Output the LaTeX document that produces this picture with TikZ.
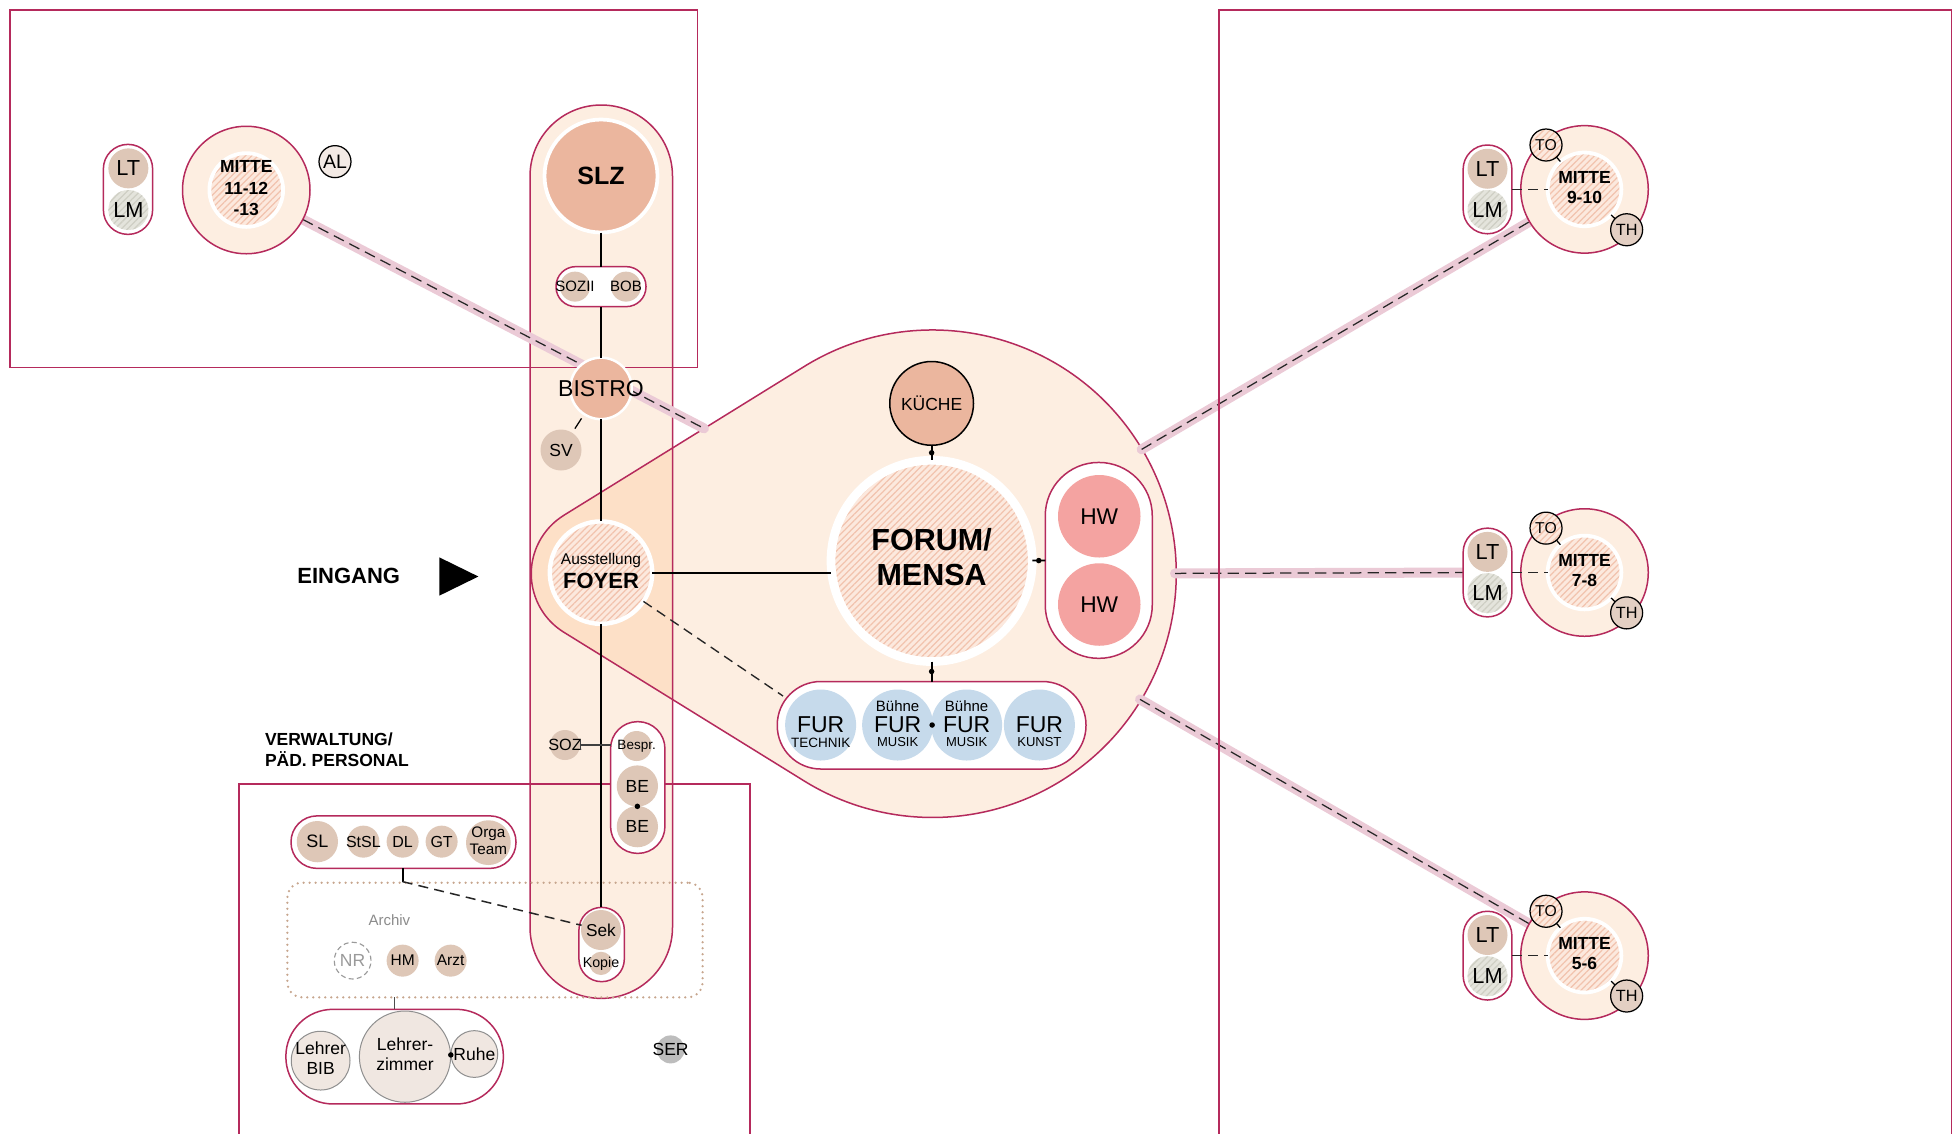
\documentclass[tikz,border=0pt]{standalone}
\usepackage{fontspec}
\setmainfont{Liberation Sans}
\usetikzlibrary{patterns.meta,arrows.meta}
\pgfdeclarelayer{bg}
\pgfdeclarelayer{mid}
\pgfsetlayers{bg,mid,main}
\definecolor{crim}{HTML}{B52A5C}
\definecolor{peach}{HTML}{FDEEE1}
\definecolor{peachdk}{HTML}{FDE0C7}
\definecolor{salmon}{HTML}{EBB69E}
\definecolor{taupe}{HTML}{DEC7B7}
\definecolor{hpbase}{HTML}{FCE9DE}
\definecolor{hpline}{HTML}{F2C3AE}
\definecolor{lmbase}{HTML}{E4E4DC}
\definecolor{lmline}{HTML}{CFCFC4}
\definecolor{hwc}{HTML}{F4A3A1}
\definecolor{furc}{HTML}{C6DAEB}
\definecolor{lzc}{HTML}{F0E7E1}
\definecolor{lzd}{HTML}{8F8F8F}
\definecolor{serc}{HTML}{BDBDBD}
\definecolor{bandc}{HTML}{EBCAD6}
\definecolor{archc}{HTML}{C7A68E}
\definecolor{archt}{HTML}{8C8C8C}
\definecolor{nrc}{HTML}{9A9A9A}
\definecolor{alc}{HTML}{F3EAE5}
\definecolor{thc}{HTML}{E3CFC3}
\newcommand\fsz[2]{\fontsize{#1pt}{#2pt}\selectfont}
\newcommand\zt[1]{\makebox[0pt]{#1}}
\newcommand\zb[1]{\makebox[0pt]{\begin{tabular}{@{}c@{}}#1\end{tabular}}}
\begin{document}
\begin{tikzpicture}[x=0.5pt,y=0.5pt,
  crimline/.style={draw=crim,line width=0.6pt},
  circ/.style={circle,inner sep=0pt,outer sep=0pt},
  tc/.style={circ,fill=taupe},
  hp/.style={preaction={fill=hpbase},pattern={Lines[angle=45,distance=1.8pt,line width=0.5pt]},pattern color=hpline},
  hg/.style={preaction={fill=lmbase},pattern={Lines[angle=45,distance=1.8pt,line width=0.5pt]},pattern color=lmline},
  capsule/.style={rectangle,draw=crim,line width=0.6pt,fill=white,inner sep=0pt,outer sep=0pt},
  band/.style={draw=bandc,line width=4pt,line cap=round},
  bandd/.style={draw=black!85,line width=0.5pt,dash pattern=on 4.5pt off 2.5pt},
  spinel/.style={draw=black,line width=0.9pt},
  thinl/.style={draw=black,line width=0.6pt},
  ldash/.style={draw=black!85,line width=0.55pt,dash pattern=on 4pt off 2.5pt},
  dotn/.style={circle,fill=black,inner sep=0pt,minimum size=2.2pt},
  lab/.style={inner sep=0pt,outer sep=0pt},
]
\useasboundingbox (0,0) rectangle (1567.2,-906.4);

% ---------------- background fills
\begin{pgfonlayer}{bg}
\fill[white] (0,0) rectangle (1567.2,-906.4);
\fill[peach] (451.05,-412.23) -- (643.37,-293.19) arc[start angle=121.76,end angle=-121.76,radius=195] -- (451.05,-505.77) arc[start angle=238.24,end angle=121.76,radius=55] -- cycle;
\fill[peach,rounded corners=28.49pt] (424,-84) rectangle (538,-798.7);
\begin{scope}
\clip (451.05,-412.23) -- (643.37,-293.19) arc[start angle=121.76,end angle=-121.76,radius=195] -- (451.05,-505.77) arc[start angle=238.24,end angle=121.76,radius=55] -- cycle;
\fill[peachdk,rounded corners=28.49pt] (424,-84) rectangle (538,-798.7);
\end{scope}
\end{pgfonlayer}

% ---------------- left group
\node[capsule,minimum width=19.7pt,minimum height=36pt,rounded corners=9.8pt] (capL) at (102.4,-151.5) {};
\node[tc,minimum size=16pt,font=\fsz{8.7}{9}] (LTL) at (102.7,-134.7) {\zt{LT}};
\node[circ,hg,minimum size=16pt,font=\fsz{8.7}{9}] (LML) at (102.7,-168) {\zt{LM}};
\node[circ,fill=peach,draw=crim,line width=0.6pt,minimum size=51pt] (MOL) at (197,-152) {};
\node[circ,hp,draw=white,line width=1.5pt,minimum size=29.5pt,font=\bfseries\fsz{7}{8.6}] (MIL) at (197,-152) {\zb{MITTE\\11-12\\-13}};
\node[circ,fill=alc,draw=black,line width=0.5pt,minimum size=12.8pt,font=\fsz{7.8}{8}] (AL) at (268,-129.3) {\zt{AL}};

% ---------------- right groups
\foreach \cy/\lab/\nm in {151.5/9-10/A,458/7-8/B,764.5/5-6/C}{
 \node[capsule,minimum width=19.5pt,minimum height=35.5pt,rounded corners=9.7pt] (cap\nm) at (1190,-\cy) {};
 \node[tc,minimum size=16pt,font=\fsz{8.7}{9}] (LT\nm) at (1190,-\cy+16.5) {\zt{LT}};
 \node[circ,hg,minimum size=16pt,font=\fsz{8.7}{9}] (LM\nm) at (1190,-\cy-16.5) {\zt{LM}};
 \node[circ,fill=peach,draw=crim,line width=0.6pt,minimum size=51pt] (MO\nm) at (1267.6,-\cy) {};
 \node[circ,hp,draw=white,line width=1.5pt,minimum size=29.5pt,font=\bfseries\fsz{7}{8}] (MI\nm) at (1267.6,-\cy) {\zb{MITTE\\\lab}};
 \node[circ,hp,draw=black,line width=0.5pt,minimum size=12.8pt,font=\fsz{6.3}{7}] (TO\nm) at (1236.8,-\cy+35.5) {\zt{TO}};
 \node[circ,fill=thc,draw=black,line width=0.5pt,minimum size=12.8pt,font=\fsz{6.5}{7}] (TH\nm) at (1301.3,-\cy-32.3) {\zt{TH}};
 \draw[thinl,line width=0.5pt] (TO\nm) -- (MI\nm);
 \draw[thinl,line width=0.5pt] (TH\nm) -- (MI\nm);
 \draw[ldash,line width=0.6pt] (cap\nm.east) -- (MI\nm);
}

% ---------------- spine
\node[circ,fill=salmon,draw=white,line width=1.5pt,minimum size=45.2pt,font=\bfseries\fsz{10}{12}] (SLZ) at (480.8,-140.8) {\zt{SLZ}};
\node[capsule,minimum width=36pt,minimum height=16pt,rounded corners=7.9pt] (sozcap) at (480.8,-229.3) {};
\node[tc,minimum size=12pt,font=\fsz{6}{7}] (SOZII) at (460,-229.3) {\zt{SOZII}};
\node[tc,minimum size=12pt,font=\fsz{6}{7}] (BOB) at (500.8,-229.3) {\zt{BOB}};
\node[circ,fill=salmon,draw=white,line width=1pt,minimum size=24.6pt,font=\fsz{9.2}{11}] (BISTRO) at (480.8,-310.7) {\zt{BISTRO}};
\node[tc,minimum size=16.4pt,font=\fsz{7}{8}] (SV) at (448.8,-360) {\zt{SV}};
\node[circ,hp,draw=white,line width=1.75pt,minimum size=41pt] (FOYER) at (480.8,-458.1) {};
\node[lab,font=\fsz{6.2}{7}] (foyA) at (480.8,-448.3) {Ausstellung};
\node[lab,font=\bfseries\fsz{8.8}{10}] (foyB) at (480.8,-465) {FOYER};
\node[tc,minimum size=12pt,font=\fsz{6.5}{7}] (SOZ) at (452,-596) {\zt{SOZ}};
\node[capsule,minimum width=21.75pt,minimum height=52.7pt,rounded corners=10.8pt] (becap) at (510.2,-630) {};
\node[tc,minimum size=12pt,font=\fsz{5.4}{6}] (BESPR) at (509.3,-596.8) {\zt{Bespr.}};
\node[tc,minimum size=16.5pt,font=\fsz{7}{8}] (BE1) at (509.9,-628.8) {\zt{BE}};
\node[tc,minimum size=16.5pt,font=\fsz{7}{8}] (BE2) at (509.9,-661.3) {\zt{BE}};
\node[capsule,minimum width=18.15pt,minimum height=29.7pt,rounded corners=9pt] (sekcap) at (481.3,-755.6) {};
\node[tc,minimum size=16pt,font=\fsz{6.9}{8}] (SEK) at (480.8,-744) {\zt{Sek}};
\node[tc,minimum size=9.3pt,font=\fsz{5.7}{6}] (KOPIE) at (480.8,-770.7) {\zt{Kopie}};

% ---------------- centre
\node[circ,fill=salmon,draw=black,line width=0.6pt,minimum size=33.5pt,font=\fsz{7}{8}] (KUECHE) at (745.3,-322.7) {\zt{KÜCHE}};
\node[circ,hp,draw=white,line width=3.5pt,minimum size=80.5pt,font=\bfseries\fsz{12.2}{14.3}] (FORUM) at (745.3,-448.7) {\zb{FORUM/\\MENSA}};
\node[capsule,minimum width=42.8pt,minimum height=78.35pt,rounded corners=21.3pt] (hwcap) at (879,-448.3) {};
\node[circ,fill=hwc,minimum size=33pt,font=\fsz{9.1}{10}] (HW1) at (879.4,-413) {\zt{HW}};
\node[circ,fill=hwc,minimum size=33pt,font=\fsz{9.1}{10}] (HW2) at (879.4,-483.6) {\zt{HW}};
\node[capsule,minimum width=123.5pt,minimum height=35pt,rounded corners=17.4pt] (furcap) at (745.3,-580.2) {};
\node[circ,fill=furc,minimum size=28.4pt] (FUR1) at (656.5,-580) {};
\node[circ,fill=furc,minimum size=28.4pt] (FUR2) at (718.1,-580) {};
\node[circ,fill=furc,minimum size=28.4pt] (FUR3) at (773.3,-580) {};
\node[circ,fill=furc,minimum size=28.4pt] (FUR4) at (831.5,-580) {};
\node[lab,font=\fsz{9.2}{10}] (FUR1a) at (656.5,-580) {FUR};
\node[lab,font=\fsz{5.4}{6}] (FUR1b) at (656.5,-594) {TECHNIK};
\node[lab,font=\fsz{9.2}{10}] (FUR2a) at (718.1,-580) {FUR};
\node[lab,font=\fsz{5.2}{6}] (FUR2b) at (718.1,-594) {MUSIK};
\node[lab,font=\fsz{6}{7}] (FUR2c) at (718.1,-564.5) {Bühne};
\node[lab,font=\fsz{9.2}{10}] (FUR3a) at (773.3,-580) {FUR};
\node[lab,font=\fsz{5.2}{6}] (FUR3b) at (773.3,-594) {MUSIK};
\node[lab,font=\fsz{6}{7}] (FUR3c) at (773.3,-564.5) {Bühne};
\node[lab,font=\fsz{9.2}{10}] (FUR4a) at (831.5,-580) {FUR};
\node[lab,font=\fsz{5.2}{6}] (FUR4b) at (831.5,-594) {KUNST};
\coordinate (furend) at (626.4,-556.8);

% ---------------- entrance
\node[lab,font=\bfseries\fsz{8.8}{10}] (EING) at (279,-460.5) {EINGANG};
\fill[black] (351.5,-445.9) -- (382.7,-461.2) -- (351.5,-476.5) -- cycle;

% ---------------- administration
\node[lab,anchor=west,align=left,font=\bfseries\fsz{7}{8.3}] (VERW) at (212,-600) {VERWALTUNG/\\PÄD. PERSONAL};
\node[capsule,minimum width=90pt,minimum height=21pt,rounded corners=10.4pt] (slcap) at (322.8,-673.7) {};
\node[tc,minimum size=16.5pt,font=\fsz{7.2}{8}] (SL) at (253.9,-673.3) {\zt{SL}};
\node[tc,minimum size=12.8pt,font=\fsz{6.4}{7}] (STSL) at (290.7,-673.3) {\zt{StSL}};
\node[tc,minimum size=12.8pt,font=\fsz{6.4}{7}] (DL) at (322.1,-673.3) {\zt{DL}};
\node[tc,minimum size=12.8pt,font=\fsz{6.4}{7}] (GT) at (353.3,-673.3) {\zt{GT}};
\node[tc,minimum size=17.9pt,font=\fsz{6.1}{6.8}] (ORGA) at (390.7,-674.1) {\zb{Orga\\Team}};
\node[rectangle,draw=archc,line width=1pt,line cap=round,dash pattern=on 0pt off 2.4pt,rounded corners=6pt,minimum width=166.1pt,minimum height=45.9pt,inner sep=0pt,outer sep=0pt] (ARCHIV) at (396,-752) {};
\node[lab,text=archt,font=\fsz{6}{7}] (ARCHT) at (311.5,-736) {Archiv};
\node[circ,draw=nrc,line width=0.45pt,dash pattern=on 2pt off 1.3pt,minimum size=14.7pt,text=nrc,font=\fsz{7}{8}] (NR) at (282.1,-768.5) {\zt{NR}};
\node[tc,minimum size=12.8pt,font=\fsz{6.2}{7}] (HM) at (322.1,-768.5) {\zt{HM}};
\node[tc,minimum size=12.8pt,font=\fsz{6.2}{7}] (ARZT) at (360.5,-768.5) {\zt{Arzt}};
\node[capsule,minimum width=87pt,minimum height=37.85pt,rounded corners=18.8pt] (lehrcap) at (315.7,-845.3) {};
\node[circ,fill=lzc,draw=lzd,line width=0.4pt,minimum size=23.5pt,font=\fsz{7}{8.2}] (LBIB) at (256.5,-848.5) {\zb{Lehrer\\BIB}};
\node[circ,fill=lzc,draw=lzd,line width=0.4pt,minimum size=36.5pt,font=\fsz{7}{7.8}] (LZ) at (324,-845.3) {\zb{Lehrer-\\zimmer}};
\node[circ,fill=lzc,draw=lzd,line width=0.4pt,minimum size=18.7pt,font=\fsz{7}{8}] (RUHE) at (379.5,-843.2) {\zt{Ruhe}};
\node[circ,fill=serc,minimum size=11.2pt,font=\fsz{7}{8}] (SER) at (536.5,-839.5) {\zt{SER}};

% ---------------- connectors
\draw[spinel] (SLZ) -- (sozcap);
\draw[spinel] (sozcap) -- (BISTRO);
\draw[spinel] (BISTRO) -- (FOYER);
\draw[spinel] (FOYER) -- (FOYER |- sekcap.north);
\draw[thinl,line width=0.5pt,shorten <=2pt,shorten >=2pt] (SV) -- (BISTRO);
\draw[spinel] (FOYER.east) -- (FOYER.east -| FORUM.west);
\draw[ldash] (FOYER) -- (furend);
\draw[thinl,line width=0.7pt] (KUECHE) -- (FORUM) node[dotn,midway] {};
\draw[thinl,line width=0.7pt] (FORUM) -- (hwcap) node[dotn,midway] {};
\draw[thinl,line width=0.7pt] (FORUM) -- (furcap) node[dotn,midway] {};
\path (FUR2) -- (FUR3) node[dotn,midway] {};
\path (BE1) -- (BE2) node[dotn,midway] {};
\path (LZ) -- (RUHE) node[dotn,midway] {};
\draw[{Bar[width=4pt]}-,draw=black!75,line width=0.45pt] (SOZ.east) -- (SOZ.east -| becap.west);
\coordinate (dlk) at (322.1,-705.3);
\draw[thinl,line width=0.8pt] (DL |- slcap.south) -- (dlk);
\draw[ldash,line width=0.6pt] (dlk) -- (SEK);
\draw[draw=black!70,line width=0.6pt] (lehrcap.north |- ARCHIV.south) -- (lehrcap.north);

% ---------------- bands, frames, outlines
\coordinate (b1) at (563.2,-342.7);
\coordinate (b2) at (913.3,-359.5);
\coordinate (b3) at (940,-458.7);
\coordinate (b4) at (912,-559.5);
\begin{pgfonlayer}{mid}
\draw[crimline] (451.05,-412.23) -- (643.37,-293.19) arc[start angle=121.76,end angle=-121.76,radius=195] -- (451.05,-505.77) arc[start angle=238.24,end angle=121.76,radius=55] -- cycle;
\draw[crimline,rounded corners=28.49pt] (424,-84) rectangle (538,-798.7);
\draw[band] (MOL) -- (b1);
\draw[bandd] (MOL) -- (b1);
\draw[band] (b2) -- (MOA);
\draw[bandd] (b2) -- (MOA);
\draw[band] (b3) -- (capB);
\draw[bandd] (b3) -- (capB);
\draw[band] (b4) -- (MOC);
\draw[bandd] (b4) -- (MOC);
\draw[crimline] (8,-8) rectangle (558,-294);
\draw[crimline] (975,-910) -- (975,-8) -- (1561,-8) -- (1561,-910);
\draw[crimline] (191,-910) -- (191,-627.2) -- (600,-627.2) -- (600,-910);
\end{pgfonlayer}
\end{tikzpicture}
\end{document}
